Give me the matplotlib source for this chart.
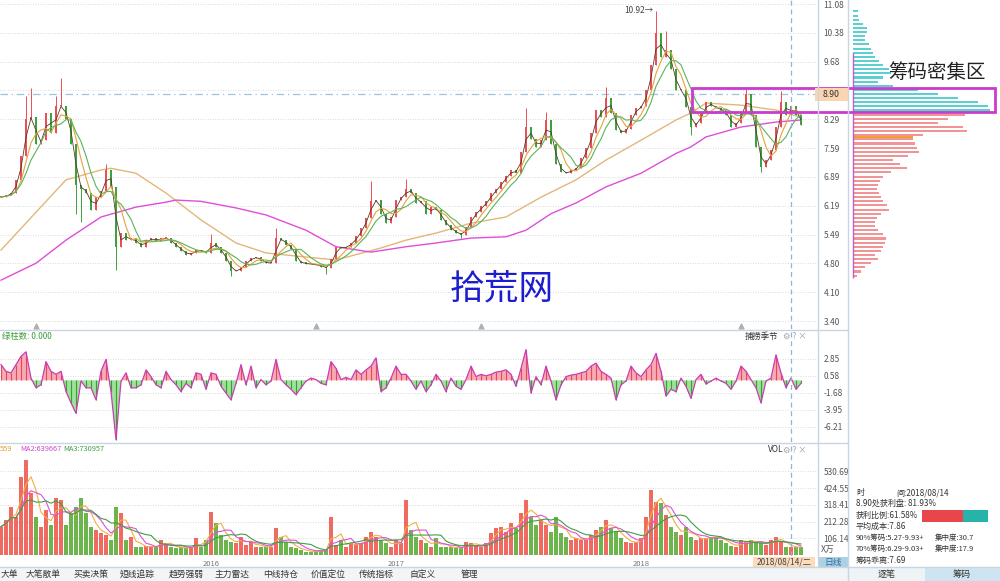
import numpy as np
import pandas as pd
import matplotlib
matplotlib.use('Agg')
from matplotlib import pyplot as plt
from matplotlib.patches import Rectangle
from matplotlib.lines import Line2D
from matplotlib.transforms import blended_transform_factory

plt.rcParams['font.family'] = ['Noto Sans CJK SC', 'DejaVu Sans']

# ---- data (one candle ~ one trading week) ----
closes = [6.40, 6.45, 6.50, 6.82, 7.40, 8.30, 8.34, 7.70, 7.78, 8.44,
          7.95, 8.60, 8.60, 8.30, 7.70, 6.70, 6.60, 6.50, 6.10, 6.40,
          6.55, 7.05, 6.65, 5.20, 5.53, 5.36, 5.40, 5.30, 5.20, 5.36,
          5.40, 5.35, 5.40, 5.41, 5.30, 5.20, 5.10, 5.00, 5.05, 5.12,
          5.10, 5.05, 5.30, 5.20, 5.05, 4.85, 4.60, 4.62, 4.71, 4.85,
          4.92, 4.95, 4.85, 4.80, 4.80, 5.40, 5.36, 5.25, 5.15, 4.85,
          4.80, 4.79, 4.77, 4.76, 4.72, 4.68, 4.90, 5.20, 5.17, 5.20,
          5.30, 5.45, 5.65, 5.90, 6.30, 6.33, 6.00, 5.77, 5.92, 6.33,
          6.40, 6.60, 6.50, 6.26, 6.30, 6.00, 6.16, 6.10, 5.85, 5.72,
          5.60, 5.53, 5.48, 5.68, 5.92, 6.05, 6.18, 6.30, 6.50, 6.60,
          6.78, 6.92, 7.06, 6.98, 7.50, 8.10, 7.80, 7.62, 7.78, 8.27,
          7.70, 7.20, 7.00, 6.98, 7.06, 7.10, 7.35, 7.60, 7.95, 8.51,
          8.34, 8.80, 8.44, 8.03, 7.95, 8.05, 8.40, 8.55, 8.60, 9.00,
          9.60, 10.38, 9.80, 9.96, 9.50, 9.00, 9.00, 8.58, 8.10, 8.20,
          8.44, 8.70, 8.60, 8.55, 8.51, 8.40, 8.10, 8.20, 8.44, 8.90,
          8.40, 7.62, 7.13, 7.30, 7.54, 8.10, 8.70, 8.40, 8.60, 8.40,
          8.15]
spike_high = {5: 8.85, 6: 9.05, 11: 8.85, 12: 9.29, 21: 7.20, 42: 5.50, 55: 5.65,
              74: 6.80, 81: 6.85, 105: 8.55, 109: 8.46, 121: 9.07, 131: 10.92,
              133: 10.42, 149: 9.05, 156: 8.98}
spike_low = {15: 6.00, 16: 5.80, 23: 4.64, 46: 4.48, 65: 4.55, 92: 5.40,
             138: 7.90, 152: 7.00}

# long moving averages as drawn (tan ~MA120, magenta ~MA250)
ma_mid_idx = [0, 13, 20, 22, 27, 33, 40, 47, 53, 61, 67, 76, 81, 87, 94, 101,
              108, 115, 121, 128, 135, 138, 141, 148, 155, 160]
ma_mid = [5.12, 6.82, 7.06, 7.10, 6.98, 6.50, 5.85, 5.29, 5.05, 4.95, 4.88, 5.17,
          5.36, 5.53, 5.77, 5.92, 6.40, 6.82, 7.30, 7.78, 8.27, 8.44, 8.68, 8.63,
          8.51, 8.34]
ma_year_idx = [0, 7, 13, 20, 27, 33, 35, 40, 47, 53, 61, 67, 74, 81, 87, 94, 101,
               105, 110, 115, 121, 128, 135, 138, 141, 148, 155, 160]
ma_year = [4.39, 4.80, 5.36, 5.92, 6.16, 6.28, 6.33, 6.30, 6.14, 5.97, 5.60, 5.20,
           5.07, 5.20, 5.29, 5.41, 5.44, 5.60, 6.00, 6.26, 6.65, 6.98, 7.46, 7.62,
           7.86, 8.10, 8.22, 8.27]

# 捕捞季节 histogram
season = [2.1, 1.2, 1.0, 2.1, 3.2, 3.8, 0.3, -1.0, -0.6, 2.5,
          1.2, 0.8, 1.2, -1.5, -3.0, -4.4, -0.1, -1.0, -1.0, -2.6,
          1.2, 2.8, -1.5, -7.9, -0.1, 1.0, -1.0, -1.0, -0.6, 1.4,
          0.5, -0.6, -1.0, 1.2, 0.1, -0.6, -1.5, -0.4, -1.0, 1.0,
          0.8, -1.2, 1.0, 0.8, -0.8, -1.7, -2.6, -0.4, 2.1, -0.6,
          1.9, -1.0, 0.1, -0.6, -0.1, 2.8, 0.1, -0.6, -1.2, -1.9,
          -1.0, -0.1, 0.3, 0.1, -0.4, -0.6, 2.5, 1.6, 0.1, 0.4,
          0.1, 1.4, 0.8, 1.4, 1.9, 3.0, -1.5, -1.0, 0.3, 1.9,
          0.8, 0.8, -0.1, -1.2, -0.1, -1.5, -0.6, 0.8, -0.1, -1.5,
          0.3, -0.8, -1.2, 0.1, 1.9, 0.5, 0.8, 0.6, 0.8, 1.1,
          1.2, 1.4, 0.8, -0.8, 1.6, 4.1, -1.7, 0.5, -0.6, 1.9,
          -0.1, -2.6, -0.6, 0.5, 0.7, 0.8, 1.0, 1.2, 1.9, 2.3,
          1.2, 0.8, 0.3, -2.6, -0.6, -0.1, 1.9, 1.0, 0.5, 1.4,
          2.1, 3.6, 1.2, -2.1, -1.2, -1.5, 0.3, -0.8, -2.4, 0.1,
          0.8, -0.5, -0.1, 0.3, -0.1, -0.4, -1.2, -0.1, 1.9, 1.2,
          0.1, -1.0, -3.0, -0.1, 0.3, 3.4, 1.0, -1.0, 0.3, -1.2,
          -0.4]

# volume (万)
volume = [180, 222, 306, 243, 496, 602, 391, 243, 180, 285,
          190, 359, 348, 190, 264, 306, 359, 264, 180, 158,
          137, 127, 95, 306, 264, 95, 116, 53, 53, 57,
          53, 49, 95, 74, 53, 42, 53, 42, 42, 106,
          53, 95, 275, 201, 127, 95, 84, 74, 116, 63,
          84, 53, 53, 49, 53, 169, 116, 84, 53, 42,
          32, 21, 21, 25, 32, 32, 243, 63, 95, 53,
          74, 70, 74, 116, 148, 116, 95, 74, 53, 95,
          74, 348, 158, 116, 95, 74, 53, 106, 53, 53,
          49, 42, 42, 84, 74, 57, 53, 74, 137, 169,
          175, 148, 201, 169, 264, 348, 243, 190, 222, 190,
          148, 243, 137, 116, 95, 106, 95, 95, 127, 158,
          180, 222, 169, 148, 106, 84, 74, 84, 106, 243,
          412, 338, 327, 253, 180, 148, 127, 180, 116, 95,
          106, 106, 116, 116, 95, 74, 57, 53, 95, 84,
          95, 78, 74, 63, 95, 116, 84, 53, 53, 49,
          49]

price_ticks = [11.08, 10.38, 9.68, 8.99, 8.29, 7.59, 6.89, 6.19, 5.49, 4.80, 4.10, 3.40]
season_ticks = [2.85, 0.58, -1.68, -3.95, -6.21]
vol_ticks = [530.69, 424.55, 318.41, 212.28, 106.14]

# chip distribution (price level, relative amount)
chip_price = [10.9, 10.8, 10.7, 10.6, 10.5, 10.4, 10.3, 10.2, 10.1, 10.0,
              9.9, 9.8, 9.7, 9.6, 9.5, 9.4, 9.3, 9.2, 9.1, 9.0,
              8.9, 8.8, 8.7, 8.6, 8.5, 8.4, 8.3, 8.2, 8.1, 8.0,
              7.9, 7.8, 7.7, 7.6, 7.5, 7.4, 7.3, 7.2, 7.1, 7.0,
              6.9, 6.8, 6.7, 6.6, 6.5, 6.4, 6.3, 6.2, 6.1, 6.0,
              5.9, 5.8, 5.7, 5.6, 5.5, 5.4, 5.3, 5.2, 5.1, 5.0,
              4.9, 4.8, 4.7, 4.6, 4.5]
chip_amt = [5, 5, 6, 10, 14, 14, 12, 12, 16, 18,
            20, 22, 26, 30, 36, 38, 30, 25, 40, 65,
            85, 105, 125, 135, 137, 112, 95, 85, 110, 114,
            70, 60, 62, 64, 66, 55, 40, 47, 54, 38,
            30, 27, 25, 24, 26, 28, 30, 34, 36, 28,
            24, 22, 22, 25, 30, 33, 32, 30, 28, 22,
            25, 18, 12, 8, 4]
profit_line = 8.50
avg_cost = 7.86
profit_ratio = 61.58

year_idx = [42, 79, 128]
year_labels = ['2016', '2017', '2018']
event_idx = [7, 63, 96, 148]
cursor_idx = 158

tabs = ['大单', '大笔散单', '买卖决策', '短线追踪', '趋势强弱', '主力雷达', '中线持仓',
        '价值定位', '传统指标', '自定义', '管理']
tab_x = [9, 43, 91, 137, 186, 232, 281, 328, 376, 423, 469]

# ---------------------------------------------------------------
W, H = 1000, 581
fig = plt.figure(figsize=(10, 5.81), dpi=100)
fig.patch.set_facecolor('white')


def px_axes(x0, y0, x1, y1):
    return fig.add_axes([x0 / W, 1 - y1 / H, (x1 - x0) / W, (y1 - y0) / H])


def ftext(x, y, s, **kw):
    kw.setdefault('va', 'center')
    kw.setdefault('fontsize', 5.8)
    kw.setdefault('color', '#333333')
    fig.text(x / W, 1 - y / H, s, **kw)


def frect(x0, y0, x1, y1, **kw):
    fig.add_artist(Rectangle((x0 / W, 1 - y1 / H), (x1 - x0) / W, (y1 - y0) / H,
                             transform=fig.transFigure, **kw))


def fline(xs, ys, **kw):
    fig.add_artist(Line2D([x / W for x in xs], [1 - y / H for y in ys],
                          transform=fig.transFigure, **kw))


n = len(closes)
idx = np.arange(n)
c = np.array(closes)
o = np.array([closes[0]] + closes[:-1])
up = c >= o
red, green = '#ea4f55', '#3da23d'
cols = [red if u else green for u in up]
hi = np.maximum(o, c)
lo = np.minimum(o, c)
for k, v in spike_high.items():
    hi[k] = v
for k, v in spike_low.items():
    lo[k] = v

xlim = (-0.2, 163.4)
grid_kw = dict(color='#cfcfcf', ls=(0, (1, 2)), lw=0.6)


def style(ax, ticks, labels, ylim):
    ax.set_xlim(*xlim)
    ax.set_ylim(*ylim)
    for s in ax.spines.values():
        s.set_visible(False)
    ax.set_xticks([])
    ax.yaxis.tick_right()
    ax.set_yticks(ticks)
    ax.set_yticklabels(labels)
    ax.tick_params(axis='y', length=0, pad=4, labelsize=6, labelcolor='#555555')
    for t in ticks:
        ax.axhline(t, zorder=0, **grid_kw)
    ax.axvline(cursor_idx, color='#8fb6d6', ls=(0, (4, 3)), lw=0.9, zorder=5)


# ---- price panel ----
ax = px_axes(0, 0, 818, 329)
# the 8.99 label sits under the current-price box
style(ax, price_ticks, ['' if t == 8.99 else f'{t:.2f}' for t in price_ticks],
      (3.207, 11.177))
ax.axhline(8.90, color='#9cc3df', ls=(0, (6, 3, 1, 3)), lw=0.9, zorder=1)
s = pd.Series(closes)
ax.plot(ma_mid_idx, ma_mid, color='#e3b77a', lw=1.0, zorder=2)
ax.plot(ma_year_idx, ma_year, color='#dd4fd9', lw=1.0, zorder=2)
ax.vlines(idx, lo, hi, colors=cols, lw=0.7, zorder=3)
ax.bar(idx, np.maximum(np.abs(c - o), 0.03), bottom=np.minimum(o, c), width=0.5,
       color=cols, lw=0, zorder=3)
ax.plot(idx, s.rolling(2, min_periods=1).mean(), color='#5a3a2a', lw=0.6, zorder=4)
ax.plot(idx, s.rolling(4, min_periods=1).mean(), color='#e3a33c', lw=0.8, zorder=4)
ax.plot(idx, s.rolling(6, min_periods=1).mean(), color='#5bb35b', lw=0.8, zorder=4)
peak = int(np.argmax(hi))
ax.text(peak - 0.6, hi[peak], '10.92→', ha='right', va='center', fontsize=6,
        color='#444444')
ax.scatter(event_idx, [3.27] * len(event_idx), marker='^', s=12, color='#b0b0b0',
           zorder=6, clip_on=False)

# ---- 捕捞季节 panel ----
ax2 = px_axes(0, 330, 818, 442)
style(ax2, season_ticks, [f'{t:.2f}' for t in season_ticks], (-8.22, 6.71))
sv = np.array(season)
ax2.fill_between(idx, sv, 0, where=sv >= 0, interpolate=True, color='#f6aab3', lw=0)
ax2.fill_between(idx, sv, 0, where=sv < 0, interpolate=True, color='#9fe09a', lw=0)
ax2.vlines(idx, 0, sv, colors=['#e5475c' if v >= 0 else '#2ea52e' for v in sv], lw=0.8)
ax2.plot(idx, sv, color='#c93db6', lw=0.9)
ftext(2, 336, '绿柱数: 0.000', color='#3c9c3c', fontsize=6)
ftext(778, 336, '捕捞季节', ha='right', fontsize=6, color='#333333')
ftext(783, 336, '⚙ ? ×', fontsize=6, color='#a0a0a0')

# ---- volume panel ----
ax3 = px_axes(0, 443, 818, 556)
style(ax3, vol_ticks, [f'{t:.2f}' for t in vol_ticks], (-6, 710))
ax3.bar(idx, volume, width=0.8, color=['#ef6a60' if u else '#6cb54c' for u in up], lw=0)
vs = pd.Series(volume)
ax3.plot(idx, vs.rolling(3, min_periods=1).mean(), color='#f0b040', lw=0.8)
ax3.plot(idx, vs.rolling(5, min_periods=1).mean(), color='#e050df', lw=0.8)
ax3.plot(idx, vs.rolling(8, min_periods=1).mean(), color='#3f9f45', lw=0.8)
ftext(0, 449, '559', color='#e0a030', fontsize=5.3)
ftext(20, 449, 'MA2:639667', color='#d345cf', fontsize=5.3)
ftext(63, 449, 'MA3:730957', color='#3f9f45', fontsize=5.3)
ftext(768, 450, 'VOL', fontsize=6, color='#333333')
ftext(783, 450, '⚙ ? ×', fontsize=6, color='#a0a0a0')
ftext(821, 549, 'X万', fontsize=6.3, color='#555555')
tr = blended_transform_factory(ax3.transData, ax3.transAxes)
for xi, lab in zip(year_idx, year_labels):
    ax3.text(xi, -0.07, lab, transform=tr, ha='center', va='center', fontsize=5.5,
             color='#777777')

# ---- chip distribution ----
ax4 = px_axes(848, 0, 1000, 329)
ax4.set_xlim(-5, 147)
ax4.set_ylim(3.207, 11.177)
ax4.axis('off')
ax4.barh(chip_price, chip_amt, height=0.05,
         color=['#5ccfd0' if p >= profit_line else '#f29396' for p in chip_price], lw=0)
ax4.barh([avg_cost], [60], height=0.06, color='#f0a030', lw=0)
ax4.vlines(0, 4.45, 9.9, color='#c35cc9', lw=1.0)

# ---- frame lines ----
for yy in (329.5, 442.5):
    fline([0, 848], [yy, yy], color='#c8d6e2', lw=1)
fline([818, 818], [0, 566], color='#c8d6e2', lw=1)
fline([848, 848], [0, 581], color='#c8d6e2', lw=1)

# highlighted dense zone
frect(692, 88, 995, 112, fill=False, ec='#c93ccc', lw=2)
frect(815, 88, 848, 101, fc='#fbd4b0', ec='none')
ftext(831, 94.5, '8.90', ha='center', fontsize=6.3, color='#333333')
ftext(888, 73, '筹码密集区', fontsize=14, color='#222222')
ftext(502, 290, '拾荒网', ha='center', fontsize=25, color='#1c1cd0')

# ---- bottom bars ----
frect(753, 557, 815, 568, fc='#fcdcbb', ec='none')
ftext(784, 562.5, '2018/08/14/二', ha='center', fontsize=6, color='#444444')
frect(818, 557, 848, 568, fc='#add0e3', ec='none')
ftext(833, 562.5, '日线', ha='center', fontsize=6.3, color='#2b6da3')
frect(0, 567, 848, 581, fc='#f2f4f6', ec='none')
fline([0, 1000], [566.5, 566.5], color='#c8d6e2', lw=1)
for tx, t in zip(tab_x, tabs):
    ftext(tx, 574, t, ha='center', fontsize=6.3, color='#333333')
frect(848, 567, 925, 581, fc='#eef3f6', ec='none')
frect(925, 567, 1000, 581, fc='#cfe4f2', ec='none')
ftext(887, 574.5, '逐笔', ha='center', fontsize=6.5)
ftext(962, 574.5, '筹码', ha='center', fontsize=6.5)

# ---- chip info text ----
ftext(856, 493, '时')
ftext(896, 493, '间:2018/08/14')
ftext(856, 503.5, '8.90处获利盘: 81.93%')
ftext(856, 515, '获利比例:61.58%')
bar_w = 66
frect(922, 510, 922 + bar_w * profit_ratio / 100, 522, fc='#e8464a', ec='none')
frect(922 + bar_w * profit_ratio / 100, 510, 922 + bar_w, 522, fc='#27b3aa', ec='none')
ftext(856, 526, '平均成本:7.86')
ftext(856, 538, '90%筹码:5.27-9.93+', fontsize=5.4)
ftext(935, 538, '集中度:30.7', fontsize=5.4)
ftext(856, 549, '70%筹码:6.29-9.03+', fontsize=5.4)
ftext(935, 549, '集中度:17.9', fontsize=5.4)
ftext(856, 560, '筹码乖离:7.69')

fig.savefig('out.png', dpi=100)
